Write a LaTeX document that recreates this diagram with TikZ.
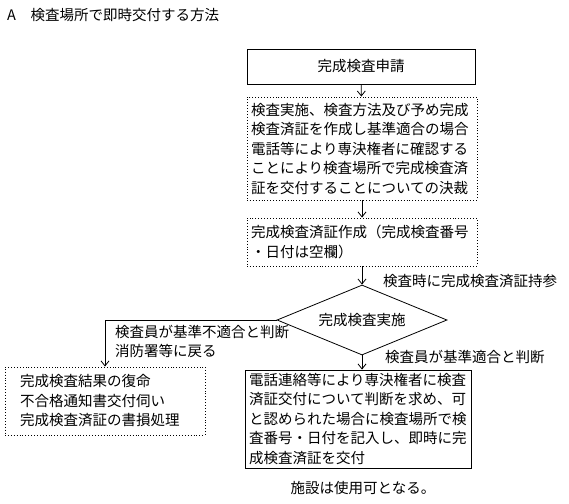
\documentclass[tikz,border=0pt]{standalone}
\usepackage{fontspec}
\setmainfont{Noto Sans CJK JP}
\usepackage{tikz}
\usetikzlibrary{positioning, arrows.meta, shapes.geometric}

\begin{document}
\begin{tikzpicture}[
  x=1pt, y=-1pt,
  jp/.style={font=\fontsize{14.5}{19.5}\selectfont, inner sep=0pt},
  solidbox/.style={draw, line width=0.9pt, jp, inner xsep=4pt},
  dotbox/.style={draw, dotted, line width=0.9pt, jp, inner xsep=4pt},
  decision/.style={draw, diamond, aspect=2.5, line width=0.8pt, jp,
                   minimum width=170pt, minimum height=70pt},
  flow/.style={-{Straight Barb[length=5pt,width=8pt]}, line width=0.8pt},
]
  \useasboundingbox (0,0) rectangle (569,503);

  % Title
  \node[jp, anchor=west] (title) at (7, 15)
    {A\hspace{1em}検査場所で即時交付する方法};

  % Main column
  \node[solidbox, minimum width=228pt, minimum height=35pt] (apply)
    at (361, 66.5) {完成検査申請};
  \node[dotbox, text width=222pt, align=left, minimum height=103pt]
    (decide) at (362, 148.5)
    {検査実施、検査方法及び予め完成\\
     検査済証を作成し基準適合の場合\\
     電話等により専決権者に確認する\\
     ことにより検査場所で完成検査済\\
     証を交付することについての決裁};
  \node[dotbox, text width=222pt, align=left, minimum height=48pt]
    (cert) at (362, 242)
    {完成検査済証作成（完成検査番号\\
     ・日付は空欄）};
  \node[decision] (check) at (362, 320) {完成検査実施};

  % Results
  \node[dotbox, inner xsep=15pt, text width=170pt, align=left,
        minimum height=68pt] (fail) at (105, 401)
    {完成検査結果の復命\\
     不合格通知書交付伺い\\
     完成検査済証の書損処理};
  \node[solidbox, text width=218pt, align=left, minimum height=98pt]
    (pass) at (358, 419)
    {電話連絡等により専決権者に検査\\
     済証交付について判断を求め、可\\
     と認められた場合に検査場所で検\\
     査番号・日付を記入し、即時に完\\
     成検査済証を交付};
  \node[jp] (usable) at (363, 488) {施設は使用可となる。};

  % Connectors
  \draw[flow] (apply) -- (decide);
  \draw[flow] (decide) -- (cert);
  \draw[flow] (cert) -- (check);
  \draw[flow] (check.west) -| (fail.north);
  \draw[flow] (check.south) -- (check.south |- pass.north);

  % Labels
  \node[jp, anchor=west] (bring) at (383, 281) {検査時に完成検査済証持参};
  \node[jp, anchor=north west, align=left] (ng) at (115, 325)
    {検査員が基準不適合と判断\\消防署等に戻る};
  \node[jp, anchor=west] (ok) at (385, 357) {検査員が基準適合と判断};

\end{tikzpicture}
\end{document}
